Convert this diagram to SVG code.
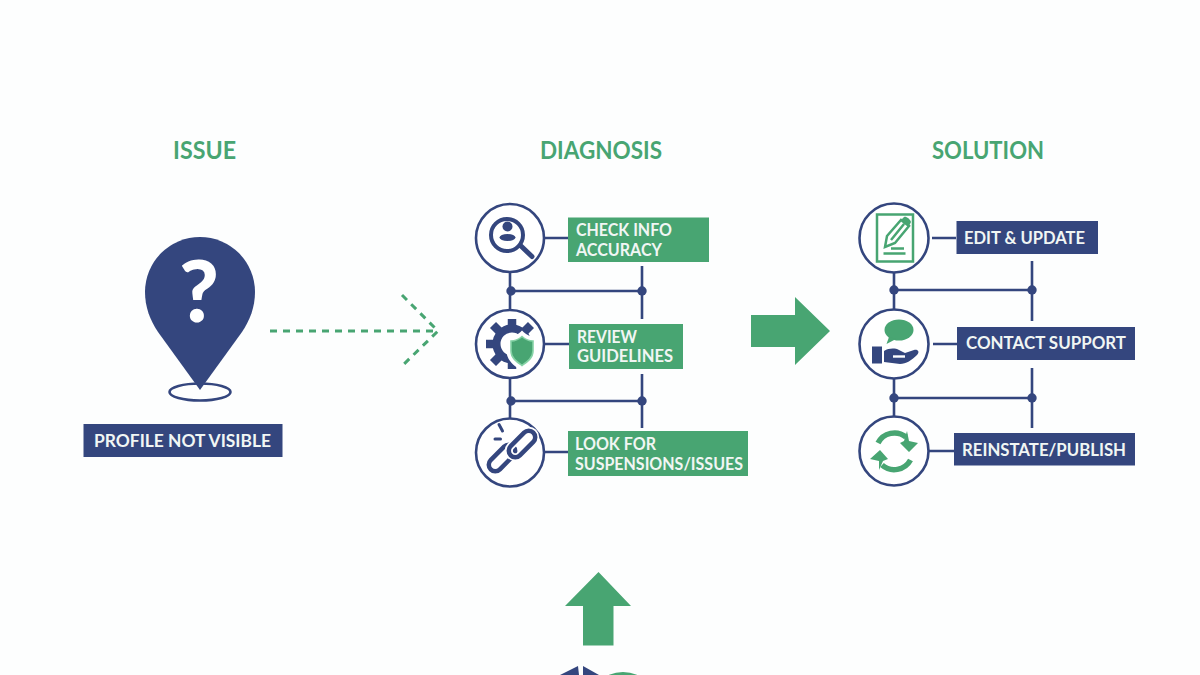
<svg xmlns="http://www.w3.org/2000/svg" width="1200" height="675" viewBox="0 0 1200 675">
<style>
text{font-family:Lato,"Liberation Sans",sans-serif;font-weight:700}
.t{fill:#48a572;font-size:24px}
.l{fill:#f1f6f4;font-size:16.600px}
.b{fill:#34467e}.g{fill:#48a572}
.c{fill:#fff;stroke:#34467e;stroke-width:2.600}
.w{fill:none;stroke:#34467e;stroke-width:2.600}
.ib{fill:none;stroke:#34467e;stroke-linecap:round}
.ig{fill:none;stroke:#48a572;stroke-width:2.500}
</style>
<rect width="1200" height="675" fill="#fdfefe"/>
<g id="connectors">
<path class="w" d="M545 238H568M510 272V344M510 291H642M642 266V319M544 344H569M510 378V452M510 401H642M642 374V428M544 452H568"/>
<path class="w" d="M932 238H956M894 272V344M894 290H1032M1032 261V321M933 344H957M894 378V451M894 398H1032M1032 368V428M929 451H954"/>
<g class="b"><circle cx="511" cy="291" r="4.700"/><circle cx="642" cy="291" r="4.700"/><circle cx="511" cy="401" r="4.700"/><circle cx="642" cy="401" r="4.700"/><circle cx="894" cy="290" r="4.700"/><circle cx="1032" cy="290" r="4.700"/><circle cx="894" cy="398" r="4.700"/><circle cx="1032" cy="398" r="4.700"/></g>
<path d="M270 331H436M402 295L438 331L402 366" fill="none" stroke="#48a572" stroke-width="3" stroke-dasharray="7 6"/>
<path class="g" d="M751 315H795V297L830 331L795 365V347H751Z"/>
<path class="g" d="M598.500 572L631 606H613.500V645.500H583V606H565Z"/>
</g>
<text class="t" x="173" y="159" textLength="63" lengthAdjust="spacingAndGlyphs">ISSUE</text>
<text class="t" x="540" y="159" textLength="122" lengthAdjust="spacingAndGlyphs">DIAGNOSIS</text>
<text class="t" x="932" y="159" textLength="112" lengthAdjust="spacingAndGlyphs">SOLUTION</text>
<g id="issue">
<ellipse cx="200" cy="392" rx="30.500" ry="8.500" fill="none" stroke="#34467e" stroke-width="2.600"/>
<path class="b" d="M200 390L158 332C150 320 145 307 145 292A55 55 0 0 1 255 292C255 307 250 320 242 332Z"/>
<text x="199" y="322" font-size="86" text-anchor="middle" fill="#fff" style="font-weight:900">?</text>
<rect class="b" x="83.500" y="424" width="199" height="33"/>
<text class="l" x="94" y="446.500" textLength="177" lengthAdjust="spacingAndGlyphs">PROFILE NOT VISIBLE</text>
</g>
<g id="check">
<circle class="c" cx="510" cy="238" r="34"/>
<circle cx="507" cy="235" r="16" fill="none" stroke="#34467e" stroke-width="4"/>
<circle class="b" cx="507.500" cy="226.500" r="5"/>
<ellipse class="b" cx="507.500" cy="237.500" rx="8" ry="3.500"/>
<path class="ib" d="M521 246L532 256.500" stroke-width="5"/>
<rect class="g" x="568" y="217.500" width="141" height="44.500"/>
<text class="l" x="576" y="236" textLength="96" lengthAdjust="spacingAndGlyphs">CHECK INFO</text>
<text class="l" x="576" y="256" textLength="86" lengthAdjust="spacingAndGlyphs">ACCURACY</text>
</g>
<g id="review">
<circle class="c" cx="510" cy="344" r="34"/>
<circle cx="512" cy="344" r="15.500" fill="none" stroke="#34467e" stroke-width="8"/>
<path d="M512 319V329M512 359V369M486 344H497M493 325L501 333M493 363L501 355M531 325L523 333M531 363L523 355" stroke="#34467e" stroke-width="8.500"/>
<path d="M522 334C526 338 531 339 535 339V351C535 359 528 364 522 368C516 364 509 359 509 351V339C513 339 518 338 522 334Z" fill="#48a572" stroke="#fff" stroke-width="5"/>
<path d="M522 336.500C526 340 530 341 533 341V351C533 358 527 362 522 365.500C517 362 511 358 511 351V341C514 341 518 340 522 336.500Z" fill="#48a572" stroke="#86d3a6" stroke-width="1.600"/>
<rect class="g" x="569" y="324" width="114" height="45"/>
<text class="l" x="577" y="343" textLength="60" lengthAdjust="spacingAndGlyphs">REVIEW</text>
<text class="l" x="577" y="362" textLength="96" lengthAdjust="spacingAndGlyphs">GUIDELINES</text>
</g>
<g id="look">
<circle class="c" cx="510" cy="452.500" r="34"/>
<rect x="486" y="451.500" width="32" height="13" rx="6.500" transform="rotate(-45 502 458)" class="ib" stroke-width="4.500"/>
<rect x="506" y="437.500" width="32" height="13" rx="6.500" transform="rotate(-45 522 444)" fill="none" stroke="#fff" stroke-width="8"/>
<rect x="506" y="437.500" width="32" height="13" rx="6.500" transform="rotate(-45 522 444)" class="ib" stroke-width="4.500"/>
<path class="ib" stroke-width="3" d="M499 424.500L502.500 431M495 439H500.500"/>
<rect class="g" x="568" y="431" width="180" height="45"/>
<text class="l" x="575" y="450" textLength="81" lengthAdjust="spacingAndGlyphs">LOOK FOR</text>
<text class="l" x="575" y="470" textLength="168" lengthAdjust="spacingAndGlyphs">SUSPENSIONS/ISSUES</text>
</g>
<g id="edit">
<circle class="c" cx="894" cy="238" r="34.500"/>
<rect class="ig" x="877" y="214.500" width="36" height="47"/>
<path class="ig" d="M885 247L887 236L901 220L909 226L895 243ZM891 240L904 224M891 248.500H904M883.500 253.500H905.500"/>
<path class="g" d="M901 220L904 217C906 216 910 219 911 222L909 226Z"/>
<rect class="b" x="956.500" y="221" width="141.500" height="33"/>
<text class="l" x="964" y="243.500" textLength="121" lengthAdjust="spacingAndGlyphs">EDIT &amp; UPDATE</text>
</g>
<g id="contact">
<circle class="c" cx="894" cy="344" r="34.500"/>
<ellipse class="g" cx="899" cy="330" rx="14.500" ry="10.500"/>
<path class="g" d="M889 337L886.500 344L896 339Z"/>
<path class="b" d="M872 346.500H882V363.500H872ZM884 351C889 348 895 348 899 350L905 353L914 350C918 349 920 352 917 355C912 360 906 364 900 364L884 362Z"/>
<path d="M893 356.500H905" stroke="#fff" stroke-width="2.400" fill="none"/>
<rect class="b" x="957" y="327" width="178" height="33"/>
<text class="l" x="966" y="349" textLength="160" lengthAdjust="spacingAndGlyphs">CONTACT SUPPORT</text>
</g>
<g id="reinstate">
<circle class="c" cx="894" cy="451" r="34.500"/>
<path d="M878 443A18.500 18.500 0 0 1 906 437M910.500 460A18.500 18.500 0 0 1 882 465" fill="none" stroke="#48a572" stroke-width="5.500"/>
<path class="g" d="M907 431L909 441L918 443L909 452L900 443L904 441ZM879 470L879 461L870 459L880 450L888 459L883 461Z"/>
<rect class="b" x="954" y="433" width="181" height="32.500"/>
<text class="l" x="962" y="455.500" textLength="164" lengthAdjust="spacingAndGlyphs">REINSTATE/PUBLISH</text>
</g>
<g id="bottom-icon">
<path class="b" d="M560 675L578 666L579 675ZM583 666L599 675H583Z"/>
<circle class="g" cx="623" cy="708" r="36"/>
</g>
</svg>
